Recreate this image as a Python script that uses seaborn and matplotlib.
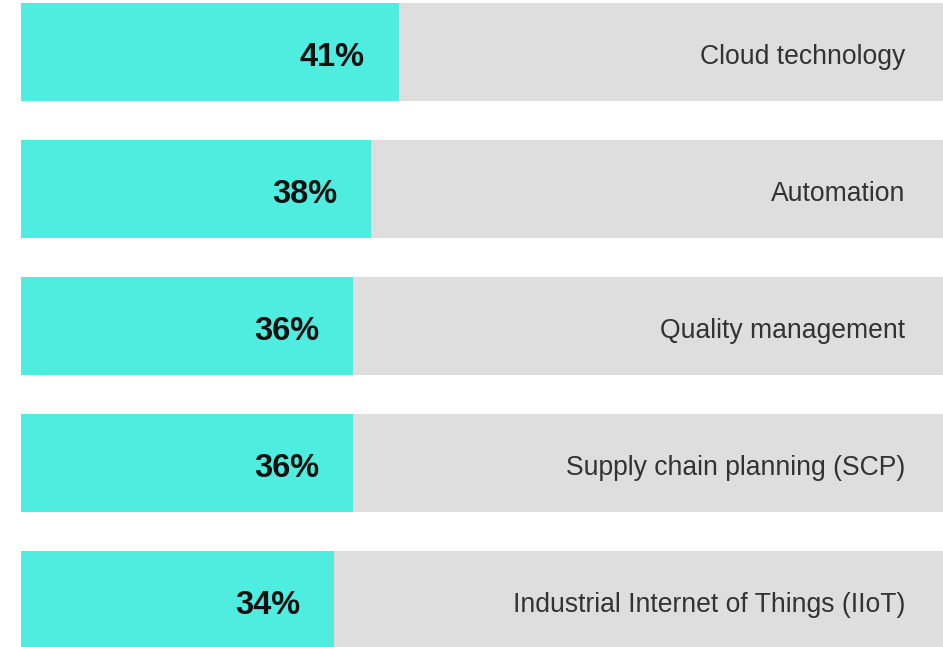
import matplotlib
matplotlib.use("Agg")
import matplotlib.pyplot as plt
import pandas as pd
import seaborn as sns

categories = ["Cloud technology", "Automation", "Quality management",
              "Supply chain planning (SCP)", "Industrial Internet of Things (IIoT)"]
shares = [41, 38, 36, 36, 34]
totals = [100, 100, 100, 100, 100]

df = pd.DataFrame({"category": categories, "share": shares, "total": totals})

sns.set_theme(style="white")
plt.rcParams["font.family"] = ["Liberation Sans", "DejaVu Sans"]

fig = plt.figure(figsize=(9.43, 6.47), dpi=100)
ax = fig.add_axes([21 / 943, 0, 922 / 943, 1])

sns.barplot(data=df, x="total", y="category", orient="h", color="#dedede",
            width=0.71, saturation=1, linewidth=0, ax=ax)
sns.barplot(data=df, x="share", y="category", orient="h", color="#4eeddf",
            width=0.71, saturation=1, linewidth=0, ax=ax)

for i, row in df.iterrows():
    t = ax.annotate(f"{row['share']}%", xy=(row["share"], i), xytext=(-24.5, -4),
                    textcoords="offset points", ha="right", va="center",
                    fontsize=23.5, fontweight="bold", color="#111111")
    ax.annotate(row["category"], xy=(row["total"], i), xytext=(-27.4, -3.5),
                textcoords="offset points", ha="right", va="center",
                fontsize=19.1, color="#333333")

ax.set_xlim(0, 100)
ax.set_ylim(4.343, -0.38)
ax.axis("off")

fig.savefig("out.png", dpi=100)
